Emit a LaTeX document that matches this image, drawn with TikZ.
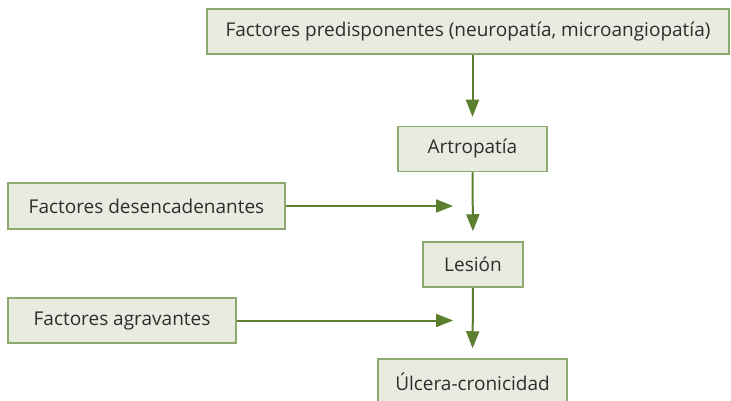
\documentclass[tikz,border=0pt]{standalone}
\usepackage{fontspec}
\setmainfont{Open Sans}
\usetikzlibrary{arrows.meta}
\definecolor{boxfill}{HTML}{E8EBE0}
\definecolor{boxline}{HTML}{8DAA6E}
\definecolor{arrowc}{HTML}{5B7F2E}
\definecolor{txt}{HTML}{2E2E2E}
\begin{document}
\begin{tikzpicture}[x=1pt,y=-1pt,
  box/.style={draw=boxline,fill=boxfill,line width=1.5pt,inner sep=0pt,
    text=txt,font=\fontsize{19}{22}\selectfont},
  conn/.style={draw=arrowc,line width=2pt,-{Triangle[width=13pt,length=17pt]}}]
\useasboundingbox (0,0) rectangle (731,401);
\node[box,minimum width=522pt,minimum height=45pt] (top) at (468,31.5) {Factores predisponentes (neuropatía, microangiopatía)};
\node[box,minimum width=149pt,minimum height=45pt] (art) at (472.5,149) {Artropatía};
\node[box,minimum width=277pt,minimum height=46pt] (des) at (146.5,206) {Factores desencadenantes};
\node[box,minimum width=100pt,minimum height=45pt] (les) at (473,264.5) {Lesión};
\node[box,minimum width=228pt,minimum height=45pt] (agr) at (122,320.5) {Factores agravantes};
\node[box,minimum width=189pt,minimum height=46pt] (ulc) at (472.5,382) {Úlcera-cronicidad};
\coordinate (desend) at (453,206);
\coordinate (agrend) at (453,320.5);
\draw[conn,shorten >=9pt] (art.north |- top.south) -- (art.north);
\draw[conn,shorten >=10pt] (art.south) -- (les.north);
\draw[conn,shorten >=10pt] (les.south) -- (ulc.north);
\draw[conn] (des.east) -- (desend);
\draw[conn] (agr.east) -- (agrend);
\end{tikzpicture}
\end{document}
